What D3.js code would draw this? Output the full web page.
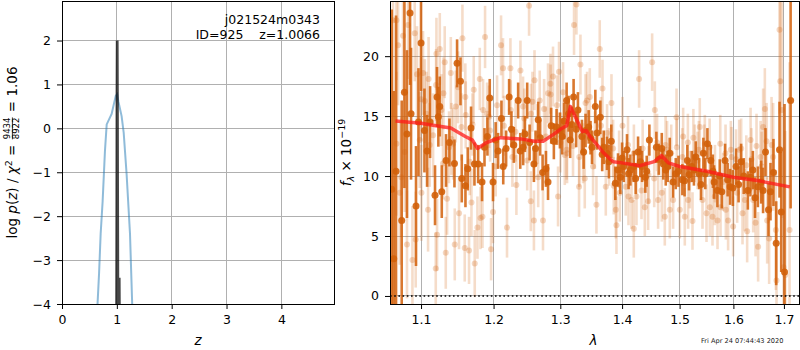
<!DOCTYPE html>
<html>
<head>
<meta charset="utf-8">
<script src="https://cdn.jsdelivr.net/npm/d3@7"></script>
<style>
  body { margin: 0; background: #fff; }
  svg { display: block; font-family: "DejaVu Sans", sans-serif; }
</style>
</head>
<body>
<svg id="chart" width="800" height="350"></svg>
<script>
// ---- left panel: log p(z) and chi2 curve
const pzZ   = [0.60, 0.648, 0.676, 0.705, 0.741, 0.783, 0.815, 0.905, 0.98, 1.005, 1.03, 1.087, 1.125, 1.178, 1.24, 1.28, 1.33];
const pzLog = [-7, -4.0, -3.3, -2.4, -1.66, -0.52, 0.09, 0.33, 0.74, 0.78, 0.6, 0.28, -0.1, -1.04, -2.4, -4.0, -7];

const chiZ   = [0.95, 0.985, 0.996, 1.0, 1.003, 1.0066, 1.010, 1.014, 1.02, 1.03, 1.038, 1.043, 1.05, 1.07];
const chiLog = [-9, -6, -4, -1.5, 0.8, 2.0, 0.8, -1.5, -4.5, -6, -4.4, -3.4, -5, -9];

const zTicks = [0, 1, 2, 3, 4];
const pTicks = [-4, -3, -2, -1, 0, 1, 2];

// ---- right panel: spectrum
const lamTicks  = [1.1, 1.2, 1.3, 1.4, 1.5, 1.6, 1.7];
const fluxTicks = [0, 5, 10, 15, 20];

const darkWave = [1.062, 1.0646, 1.0675, 1.0748, 1.0783, 1.0816, 1.0856, 1.0869, 1.0934, 1.0966, 1.100, 1.1045, 1.108, 1.112,
  1.1186, 1.1213, 1.1231, 1.125, 1.1277, 1.1335, 1.1381, 1.145, 1.1486, 1.1533, 1.1551, 1.1602, 1.1634, 1.168, 1.1728,
  1.1835, 1.1912, 1.1945, 1.1992, 1.2065, 1.2114, 1.2182, 1.2226, 1.2295, 1.2359, 1.2434, 1.2494, 1.2595, 1.266, 1.2727,
  1.2778, 1.2859, 1.2942, 1.2994, 1.3099, 1.3155, 1.3209, 1.3278, 1.3342, 1.3369, 1.345, 1.3504, 1.3558, 1.3585, 1.3639,
  1.3695, 1.3749, 1.382, 1.3887, 1.3932, 1.3971, 1.4028, 1.4083, 1.414, 1.4197, 1.4271, 1.434, 1.4396, 1.4466, 1.4588,
  1.4683, 1.4753, 1.4824, 1.4883, 1.4931, 1.505, 1.514, 1.522, 1.5294, 1.5355, 1.5434, 1.5509, 1.5572, 1.5634, 1.5696,
  1.5779, 1.5841, 1.5937, 1.6052, 1.6149, 1.628, 1.6378, 1.6477, 1.6542, 1.6628, 1.6688, 1.6728, 1.6788, 1.6843, 1.691,
  1.6945, 1.7012, 1.7137,
  1.178, 1.187, 1.203, 1.214, 1.226, 1.239, 1.246, 1.253, 1.262, 1.269, 1.281, 1.290, 1.303, 1.306, 1.313, 1.318, 1.325,
  1.340, 1.348, 1.367, 1.378, 1.400, 1.411, 1.423, 1.431, 1.442, 1.463, 1.471, 1.479, 1.498, 1.509, 1.517, 1.526, 1.539,
  1.547, 1.561, 1.574, 1.589, 1.599, 1.610, 1.620, 1.633, 1.642, 1.658];
const darkFlux = [8.9, 3.1, 10.4, 6.3, 17.0, 13.5, 23.6, 15.2, 7.5, 14.5, 21.1, 13.8, 12.1, 14.5,
  8.4, 16.6, 14.95, 15.8, 8.7, 11.3, 12.8, 11.05, 19.4, 17.9, 9.8, 9.2, 10.6, 14.0, 11.0,
  9.5, 13.3, 16.5, 9.5, 12.1, 14.8, 12.3, 16.6, 12.6, 16.3, 12.4, 16.3, 11.0, 14.7, 10.3,
  10.6, 14.2, 14.1, 13.8, 16.3, 13.0, 16.6, 15.5, 13.3, 12.0, 14.1, 12.4, 15.8, 13.6, 14.9,
  12.4, 11.9, 12.9, 9.4, 10.5, 9.9, 10.8, 12.2, 10.5, 10.8, 12.0, 10.8, 9.9, 13.0, 12.4,
  12.3, 10.5, 11.9, 9.5, 10.2, 9.7, 11.3, 10.8, 11.6, 10.2, 11.9, 12.7, 11.3, 9.5, 8.8,
  8.7, 11.3, 9.1, 10.8, 11.2, 8.8, 10.5, 9.1, 9.5, 12.0, 7.2, 8.7, 10.3, 4.4, 12.2,
  7.0, 2.0, 16.3,
  11.0, 12.4, 13.0, 10.8, 13.9, 12.1, 13.5, 12.8, 12.3, 13.2, 9.5, 12.9, 13.3, 14.6, 15.2, 14.3, 13.9,
  13.8, 13.2, 11.8, 11.2, 11.5, 10.2, 9.8, 11.2, 10.4, 11.4, 11.0, 10.8, 10.4, 9.6, 10.1, 10.5, 9.3,
  10.2, 10.4, 10.0, 9.7, 9.0, 9.3, 10.0, 9.9, 8.2, 8.8];
const darkErr = [15, 14, 13, 10, 8, 7, 6, 5.5, 5, 4.5, 4, 3.5, 3, 3,
  2.5, 2.5, 2.5, 2.5, 2.2, 2.2, 2, 2, 2, 2, 2, 1.8, 1.8, 1.8, 1.8,
  1.6, 1.6, 1.6, 1.6, 1.5, 1.5, 1.5, 1.5, 1.5, 1.5, 1.5, 1.5, 1.5, 1.5, 1.5,
  1.5, 1.5, 1.5, 1.5, 1.5, 1.5, 1.5, 1.5, 1.4, 1.4, 1.4, 1.4, 1.4, 1.4, 1.4,
  1.4, 1.4, 1.4, 1.4, 1.4, 1.4, 1.3, 1.3, 1.3, 1.3, 1.3, 1.3, 1.3, 1.3, 1.3,
  1.3, 1.3, 1.3, 1.3, 1.3, 1.3, 1.3, 1.3, 1.3, 1.3, 1.3, 1.3, 1.3, 1.4, 1.4,
  1.4, 1.4, 1.5, 1.5, 1.5, 1.6, 1.6, 1.7, 1.8, 2.0, 2.2, 2.4, 2.8, 3.5, 4,
  5, 14, 9,
  1.6, 1.6, 1.5, 1.5, 1.5, 1.5, 1.5, 1.5, 1.5, 1.5, 1.5, 1.5, 1.5, 1.5, 1.5, 1.5, 1.5,
  1.4, 1.4, 1.4, 1.4, 1.3, 1.3, 1.3, 1.3, 1.3, 1.3, 1.3, 1.3, 1.3, 1.3, 1.3, 1.3, 1.3,
  1.3, 1.4, 1.4, 1.4, 1.5, 1.5, 1.5, 1.6, 1.7, 1.9];

const lightWave = [1.0680, 1.0701, 1.0765, 1.0830, 1.0917, 1.0816, 1.0744, 1.0930, 1.0947, 1.1026, 1.1049, 1.1072, 1.1093,
  1.1196, 1.1205, 1.1250, 1.1273, 1.1213, 1.1317, 1.1331, 1.1349, 1.1409, 1.1454, 1.1468, 1.1513, 1.1560, 1.1592, 1.1606,
  1.1652, 1.1686, 1.1718, 1.1732, 1.1770, 1.1803, 1.1813, 1.1841, 1.1878, 1.1907, 1.1935, 1.1964, 1.1992, 1.2031, 1.2108,
  1.2137, 1.2195, 1.2245, 1.2274, 1.2333, 1.2393, 1.2432, 1.2494, 1.2522, 1.2548, 1.2573, 1.2595, 1.2604, 1.2660, 1.2683,
  1.2733, 1.2778, 1.2810, 1.2847, 1.2887, 1.2965, 1.2980, 1.3043, 1.3070, 1.3106, 1.3216, 1.3254, 1.3296, 1.3318, 1.3360,
  1.3387, 1.3424, 1.3468, 1.3521, 1.3576, 1.3630, 1.3675, 1.3729, 1.3783, 1.3823, 1.3861, 1.3895, 1.3906, 1.3962, 1.4007,
  1.4062, 1.4108, 1.4159, 1.4198, 1.4244, 1.4289, 1.4330, 1.4387, 1.4444, 1.4514, 1.4561, 1.4618, 1.4683, 1.4736, 1.4777,
  1.4825, 1.4884, 1.4945, 1.5004, 1.5064, 1.5094, 1.5154, 1.5185, 1.5234, 1.5276, 1.5326, 1.5368, 1.5418, 1.5461, 1.5492,
  1.5554, 1.5604, 1.5647, 1.5698, 1.5755, 1.5804, 1.5856, 1.5899, 1.5964, 1.5995, 1.6072, 1.6111, 1.6176, 1.6221, 1.6266,
  1.6333, 1.6384, 1.6431, 1.6482, 1.6530, 1.6581, 1.6615, 1.6661, 1.6701, 1.6749, 1.6782, 1.6836, 1.6849, 1.6910, 1.6925,
  1.6959, 1.6992, 1.7027, 1.7115,
  1.0636, 1.0680, 1.0722, 1.0787, 1.0887, 1.0983, 1.1005, 1.1115, 1.1160, 1.1294, 1.1376, 1.1431, 1.1546, 1.1662,
  1.17, 1.185, 1.195, 1.205, 1.215, 1.225, 1.232, 1.245, 1.255, 1.265, 1.275, 1.285, 1.295, 1.30, 1.31, 1.32, 1.33, 1.34,
  1.355, 1.365, 1.375, 1.385, 1.395, 1.41, 1.42, 1.435, 1.445, 1.455, 1.46, 1.475, 1.485, 1.495, 1.505, 1.515, 1.525,
  1.535, 1.545, 1.555, 1.565, 1.575, 1.585, 1.595, 1.605, 1.615, 1.625, 1.635, 1.645, 1.655, 1.665,
  1.10, 1.11, 1.12, 1.13, 1.14, 1.15, 1.16];
const lightFlux = [23.0, 20.9, 21.7, 22.6, 21.9, 4.3, 9.9, 4.7, 18.5, 18.6, 16.25, 15.2, 7.2,
  2.3, 20.2, 20.6, 15.5, 5.1, 19.5, 3.6, 8.1, 13.1, 4.3, 15.8, 6.9, 21.5, 4.0, 15.1,
  3.8, 7.8, 17.2, 2.7, 5.7, 18.1, 6.5, 6.6, 21.6, 15.2, 14.95, 3.9, 7.0, 10.8, 20.9,
  19.0, 5.7, 19.0, 11.6, 9.25, 18.8, 15.8, 11.3, 24.2, 7.9, 16.2, 6.3, 18.0, 9.9, 16.3,
  6.3, 13.3, 16.9, 17.7, 18.3, 8.3, 18.7, 17.0, 11.75, 11.9, 22.6, 24.3, 9.1, 19.3, 11.9,
  9.8, 16.3, 16.6, 10.8, 7.6, 20.6, 17.3, 9.1, 11.6, 16.1, 9.2, 7.2, 5.9, 8.6, 14.2,
  9.1, 8.3, 8.0, 5.6, 8.3, 18.1, 8.8, 7.4, 7.9, 19.5, 15.5, 8.0, 8.6, 6.6, 12.2,
  7.2, 8.0, 14.9, 7.2, 13.3, 6.6, 8.0, 9.7, 6.25, 11.9, 11.3, 14.1, 8.0, 12.7, 6.9,
  7.4, 6.6, 8.3, 6.3, 7.4, 9.5, 7.2, 6.3, 11.6, 5.8, 8.6, 12.2, 6.9, 8.0, 5.4,
  13.0, 8.0, 6.1, 4.1, 11.6, 14.1, 15.6, 6.3, 4.8, 12.6, 11.6, 5.5, 1.3, 22.2, 17.9,
  15.5, 2.4, 1.75, 5.5,
  23.0, 12.7, 8.6, 12.0, 3.0, 13.0, 8.6, 12.6, 13.4, 11.05, 12.4, 12.7, 14.1, 11.2,
  14.3, 15.5, 13.8, 15.9, 14.2, 15.5, 13.7, 14.8, 15.2, 13.5, 15.6, 16.8, 15.9, 12.8, 12.2, 12.5, 11.6, 16.1,
  13.0, 14.2, 13.6, 12.3, 11.4, 12.6, 11.9, 12.3, 10.1, 9.8, 12.8, 12.6, 11.9, 12.4, 11.6, 12.8, 13.2,
  12.2, 11.9, 12.4, 10.2, 12.7, 11.9, 12.2, 11.4, 12.3, 10.9, 11.4, 12.5, 10.8, 12.9,
  16.4, 18.1, 17.6, 16.9, 18.6, 17.4, 16.6];
const lightErr = [5, 5, 4.5, 4.5, 4, 4.5, 5, 4, 4, 3.5, 3.5, 3.5, 3.5,
  3, 3, 3, 3, 3, 3, 3, 3, 3, 3, 3, 3, 2.8, 2.8, 2.8,
  2.8, 2.8, 2.8, 2.8, 2.6, 2.6, 2.6, 2.6, 2.6, 2.6, 2.6, 2.6, 2.6, 2.5, 2.5,
  2.5, 2.5, 2.5, 2.5, 2.5, 2.5, 2.5, 2.5, 2.5, 2.5, 2.5, 2.5, 2.5, 2.5, 2.5,
  2.5, 2.5, 2.5, 2.5, 2.5, 2.5, 2.5, 2.5, 2.5, 2.5, 2.5, 2.5, 2.5, 2.5, 2.5,
  2.5, 2.4, 2.4, 2.4, 2.4, 2.4, 2.4, 2.4, 2.4, 2.4, 2.4, 2.4, 2.4, 2.4, 2.4,
  2.4, 2.4, 2.4, 2.4, 2.4, 2.4, 2.4, 2.4, 2.4, 2.4, 2.4, 2.4, 2.4, 2.4, 2.4,
  2.4, 2.4, 2.4, 2.4, 2.4, 2.4, 2.4, 2.4, 2.4, 2.4, 2.4, 2.4, 2.4, 2.4, 2.4,
  2.4, 2.4, 2.4, 2.4, 2.4, 2.4, 2.5, 2.5, 2.5, 2.5, 2.5, 2.5, 2.6, 2.6, 2.6,
  2.7, 2.7, 2.8, 2.9, 3, 3.2, 3.4, 3.6, 3.8, 4, 4.5, 5, 6, 7, 8,
  9, 10, 12, 14,
  8, 6, 6, 5, 4.5, 4, 4, 3.5, 3.5, 3, 3, 3, 2.8, 2.8,
  2.6, 2.6, 2.6, 2.5, 2.5, 2.5, 2.5, 2.5, 2.5, 2.5, 2.5, 2.5, 2.5, 2.5, 2.5, 2.5, 2.5, 2.4,
  2.4, 2.4, 2.4, 2.4, 2.4, 2.4, 2.4, 2.4, 2.4, 2.4, 2.4, 2.4, 2.4, 2.4, 2.4, 2.4, 2.4,
  2.4, 2.4, 2.4, 2.4, 2.4, 2.4, 2.4, 2.5, 2.5, 2.5, 2.6, 2.7, 2.9, 3.2,
  3.5, 3.5, 3, 3, 3, 3, 2.8];

const modelWave = [1.0668, 1.10, 1.12, 1.14, 1.16, 1.17, 1.177, 1.19, 1.21, 1.24, 1.26, 1.2735, 1.29, 1.30, 1.31, 1.3158,
  1.325, 1.335, 1.341, 1.347, 1.357, 1.37, 1.385, 1.40, 1.43, 1.455, 1.468, 1.48, 1.50, 1.55, 1.60, 1.65, 1.712];
const modelFlux = [14.6, 14.4, 14.2, 14.0, 13.3, 13.0, 12.3, 12.8, 13.2, 13.1, 12.9, 12.9, 13.5, 13.9, 14.2, 15.8,
  14.8, 13.7, 13.8, 13.3, 12.7, 11.9, 11.2, 11.1, 10.86, 11.2, 11.7, 11.1, 10.8, 10.4, 9.9, 9.6, 9.1];

const svg = d3.select("#chart");
const font = "DejaVu Sans";
const gridColor = "#b0b0b0";
const specColor = "#d2600a";

// panel boxes
const L = { x0: 62, x1: 334, y0: 1, y1: 304 };
const R = { x0: 390, x1: 799, y0: 1, y1: 304 };

const xZ = d3.scaleLinear().domain([0, 4.96]).range([L.x0, L.x1]);
const yP = d3.scaleLinear().domain([-4, 2.9]).range([L.y1, L.y0]);
const xL = d3.scaleLog().domain([1.0598, 1.731]).range([R.x0, R.x1]);
const yF = d3.scaleLinear().domain([-0.67, 24.6]).range([R.y1, R.y0]);

const defs = svg.append("defs");
defs.append("clipPath").attr("id", "clipL").append("rect")
  .attr("x", L.x0).attr("y", L.y0).attr("width", L.x1 - L.x0).attr("height", L.y1 - L.y0);
defs.append("clipPath").attr("id", "clipR").append("rect")
  .attr("x", R.x0).attr("y", R.y0).attr("width", R.x1 - R.x0).attr("height", R.y1 - R.y0);

function grid(box, xs, xv, ys, yv) {
  const g = svg.append("g").attr("stroke", gridColor).attr("stroke-width", 1).attr("shape-rendering", "crispEdges");
  g.selectAll(".gx").data(xv).join("line")
    .attr("x1", d => xs(d)).attr("x2", d => xs(d)).attr("y1", box.y0).attr("y2", box.y1);
  g.selectAll(".gy").data(yv).join("line")
    .attr("y1", d => ys(d)).attr("y2", d => ys(d)).attr("x1", box.x0).attr("x2", box.x1);
}

function axes(box, xs, xv, xfmt, ys, yv) {
  const ax = svg.append("g").attr("transform", `translate(0,${box.y1})`)
    .call(d3.axisBottom(xs).tickValues(xv).tickFormat(xfmt).tickSize(5).tickPadding(6).tickSizeOuter(0));
  const ay = svg.append("g").attr("transform", `translate(${box.x0},0)`)
    .call(d3.axisLeft(ys).tickValues(yv).tickFormat(d3.format("d")).tickSize(5).tickPadding(6).tickSizeOuter(0));
  [ax, ay].forEach(a => {
    a.select(".domain").remove();
    a.selectAll("text").attr("font-family", font).attr("font-size", 12.5).attr("fill", "#000");
    a.selectAll("line").attr("stroke", "#000");
  });
  svg.append("rect").attr("x", box.x0).attr("y", box.y0)
    .attr("width", box.x1 - box.x0).attr("height", box.y1 - box.y0)
    .attr("fill", "none").attr("stroke", "#000").attr("stroke-width", 1).attr("shape-rendering", "crispEdges");
}

// ---------- left panel
grid(L, xZ, zTicks, yP, pTicks);
const gl = svg.append("g").attr("clip-path", "url(#clipL)");
gl.append("path").datum(d3.zip(pzZ, pzLog))
  .attr("d", d3.line().x(d => xZ(d[0])).y(d => yP(d[1])))
  .attr("fill", "none").attr("stroke", "#1f77b4").attr("stroke-opacity", 0.5).attr("stroke-width", 2);
gl.append("path").datum(d3.zip(chiZ, chiLog))
  .attr("d", d3.line().x(d => xZ(d[0])).y(d => yP(d[1])))
  .attr("fill", "none").attr("stroke", "#000").attr("stroke-opacity", 0.72).attr("stroke-width", 2.8);
axes(L, xZ, zTicks, d3.format("d"), yP, pTicks);

svg.append("text").attr("x", 320).attr("y", 24).attr("text-anchor", "end")
  .attr("font-family", font).attr("font-size", 12.5).text("j021524m0343");
svg.append("text").attr("x", 320).attr("y", 38.5).attr("text-anchor", "end")
  .attr("font-family", font).attr("font-size", 12.5).style("white-space", "pre").text("ID=925    z=1.0066");

svg.append("text").attr("x", (L.x0 + L.x1) / 2).attr("y", 345).attr("text-anchor", "middle")
  .attr("font-family", font).attr("font-size", 13.5).attr("font-style", "italic").text("z");

// left y label with stacked fraction
{
  const g = svg.append("g");
  const tA = g.append("text").attr("font-family", font).attr("font-size", 13.5).style("white-space", "pre");
  tA.append("tspan").text("log ");
  tA.append("tspan").attr("font-style", "italic").text("p");
  tA.append("tspan").text("(");
  tA.append("tspan").attr("font-style", "italic").text("z");
  tA.append("tspan").text(") / ");
  tA.append("tspan").attr("font-style", "italic").text("χ");
  tA.append("tspan").attr("font-size", 9.5).attr("dy", -5.5).text("2");
  tA.append("tspan").attr("dy", 5.5).text(" = ");
  const wA = tA.node().getComputedTextLength();
  const num = g.append("text").attr("font-family", font).attr("font-size", 8.6)
    .attr("x", wA + 1).attr("y", -7).text("9434");
  const wN = num.node().getComputedTextLength();
  g.append("text").attr("font-family", font).attr("font-size", 8.6)
    .attr("x", wA + 1).attr("y", 2).text("8922");
  g.append("line").attr("x1", wA + 1).attr("x2", wA + 1 + wN).attr("y1", -4.6).attr("y2", -4.6)
    .attr("stroke", "#000").attr("stroke-width", 0.8);
  const tC = g.append("text").attr("font-family", font).attr("font-size", 13.5).style("white-space", "pre")
    .attr("x", wA + wN + 2).text(" = 1.06");
  const total = wA + wN + 2 + tC.node().getComputedTextLength();
  g.attr("transform", `translate(17,${(L.y0 + L.y1) / 2 + total / 2}) rotate(-90)`);
}

// ---------- right panel
grid(R, xL, lamTicks, yF, fluxTicks);
const gr = svg.append("g").attr("clip-path", "url(#clipR)");
const light = lightWave.map((w, i) => ({ w, f: lightFlux[i], e: lightErr[i] }));
const dark = darkWave.map((w, i) => ({ w, f: darkFlux[i], e: darkErr[i] }));

const lg = gr.append("g");
lg.selectAll("line").data(light).join("line")
  .attr("x1", d => xL(d.w)).attr("x2", d => xL(d.w))
  .attr("y1", d => yF(d.f - d.e)).attr("y2", d => yF(d.f + d.e))
  .attr("stroke", specColor).attr("stroke-opacity", 0.22).attr("stroke-width", 2.6);
lg.selectAll("circle").data(light).join("circle")
  .attr("cx", d => xL(d.w)).attr("cy", d => yF(d.f)).attr("r", 3)
  .attr("fill", specColor).attr("fill-opacity", 0.25);

const dg = gr.append("g");
dg.selectAll("line").data(dark).join("line")
  .attr("x1", d => xL(d.w)).attr("x2", d => xL(d.w))
  .attr("y1", d => yF(d.f - d.e)).attr("y2", d => yF(d.f + d.e))
  .attr("stroke", specColor).attr("stroke-opacity", 0.85).attr("stroke-width", 2.6);
dg.selectAll("circle").data(dark).join("circle")
  .attr("cx", d => xL(d.w)).attr("cy", d => yF(d.f)).attr("r", 3.5)
  .attr("fill", specColor).attr("fill-opacity", 0.9);

gr.append("path").datum(d3.zip(modelWave, modelFlux))
  .attr("d", d3.line().x(d => xL(d[0])).y(d => yF(d[1])))
  .attr("fill", "none").attr("stroke", "#ff1a1a").attr("stroke-opacity", 0.75).attr("stroke-width", 3.5)
  .attr("stroke-linejoin", "round");

gr.append("line").attr("x1", R.x0).attr("x2", R.x1).attr("y1", yF(0)).attr("y2", yF(0))
  .attr("stroke", "#000").attr("stroke-width", 1.6).attr("stroke-dasharray", "1.6,2.6");

axes(R, xL, lamTicks, d3.format(".1f"), yF, fluxTicks);

svg.append("text").attr("x", (R.x0 + R.x1) / 2 - 1).attr("y", 345).attr("text-anchor", "middle")
  .attr("font-family", font).attr("font-size", 13.5).attr("font-style", "italic").text("λ");

// right y label f_λ × 10^-19
{
  const g = svg.append("g");
  const t = g.append("text").attr("font-family", font).attr("font-size", 13.5).style("white-space", "pre");
  t.append("tspan").attr("font-style", "italic").text("f");
  t.append("tspan").attr("font-style", "italic").attr("font-size", 9.5).attr("dy", 3).text("λ");
  t.append("tspan").attr("dy", -3).text(" × 10");
  t.append("tspan").attr("font-size", 9.5).attr("dy", -6).text("−19");
  const w = t.node().getComputedTextLength();
  g.attr("transform", `translate(351,${(R.y0 + R.y1) / 2 + w / 2}) rotate(-90)`);
}

svg.append("text").attr("x", 701).attr("y", 343)
  .attr("font-family", font).attr("font-size", 6.6).attr("fill", "#222").text("Fri Apr 24 07:44:43 2020");
</script>
</body>
</html>
